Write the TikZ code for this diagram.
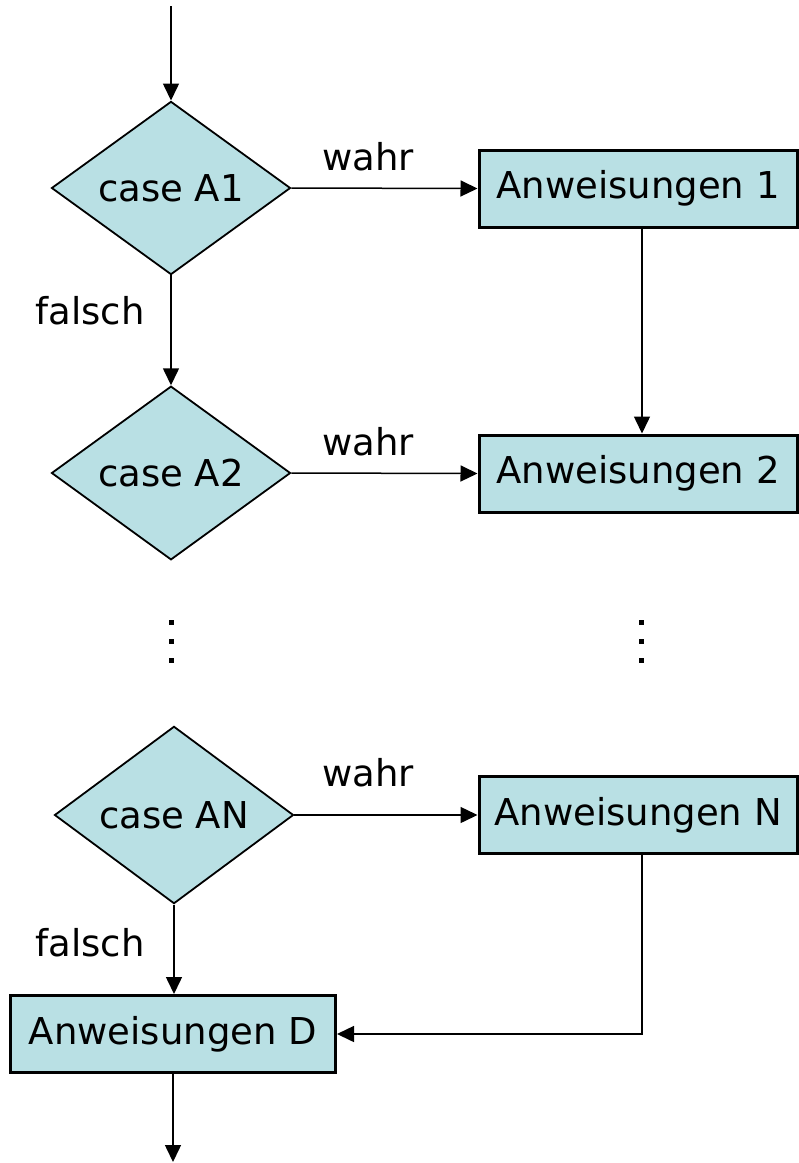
\documentclass[tikz,border=0pt]{standalone}
\usepackage{fontspec}
\setmainfont{DejaVu Sans}
\usetikzlibrary{shapes.geometric,arrows.meta}
\definecolor{boxfill}{RGB}{185,224,228}
\tikzset{
  decision/.style={diamond, draw=black, line width=1.8pt, fill=boxfill,
    minimum width=239pt, minimum height=170pt, inner sep=0pt,
    font=\fontsize{37}{44}\selectfont},
  action/.style={rectangle, draw=black, line width=3pt, fill=boxfill,
    minimum height=77pt, inner sep=0pt, font=\fontsize{37}{44}\selectfont},
  lbl/.style={font=\fontsize{37}{44}\selectfont, inner sep=0pt},
  flow/.style={line width=1.5pt, -{Triangle[length=17pt,width=16pt]}},
  dot/.style={fill=black}
}
\begin{document}
\begin{tikzpicture}[x=1pt,y=-1pt]
  \useasboundingbox (0,0) rectangle (799,1163);

  % decisions
  \node[decision] (c1) at (171,188) {case A1};
  \node[decision] (c2) at (171,473) {case A2};
  \node[decision] (cn) at (174,815) {case AN};

  % statement blocks
  \node[action, minimum width=318pt] (a1) at (638,188.5) {Anweisungen 1};
  \node[action, minimum width=318pt] (a2) at (638,473.5) {Anweisungen 2};
  \node[action, minimum width=318pt] (an) at (638,815) {Anweisungen N};
  \node[action, minimum width=325pt] (ad) at (173,1034) {Anweisungen D};

  % free ends
  \coordinate (start) at (171,6);
  \coordinate (stop) at (173,1162);
  \coordinate (t1) at (642,0);
  \coordinate (tn) at (642,1034);

  % connectors
  \draw[flow] (start) -- (c1.north);
  \draw[flow] (c1.east) -- (a1.west);
  \draw[flow] (c1.south) -- (c2.north);
  \draw[flow] (a1.south -| t1) -- (a2.north -| t1);
  \draw[flow] (c2.east) -- (a2.west);
  \draw[flow] (cn.east) -- (an.west);
  \draw[flow] (cn.south) -- (cn.south |- ad.north);
  \draw[flow] (an.south -| t1) -- (tn) -- (ad.east);
  \draw[flow] (ad.south) -- (stop);

  % branch labels
  \node[lbl] (w1) at (368,157) {wahr};
  \node[lbl] (f1) at (90,311) {falsch};
  \node[lbl] (w2) at (368,442) {wahr};
  \node[lbl] (wn) at (368,773) {wahr};
  \node[lbl] (fn) at (90,943) {falsch};

  % continuation dots
  \foreach \yy in {622,641,660} {
    \fill[dot] (169,\yy-2.5) rectangle ++(5,5);
    \fill[dot] (639,\yy-2.5) rectangle ++(5,5);
  }
\end{tikzpicture}
\end{document}
